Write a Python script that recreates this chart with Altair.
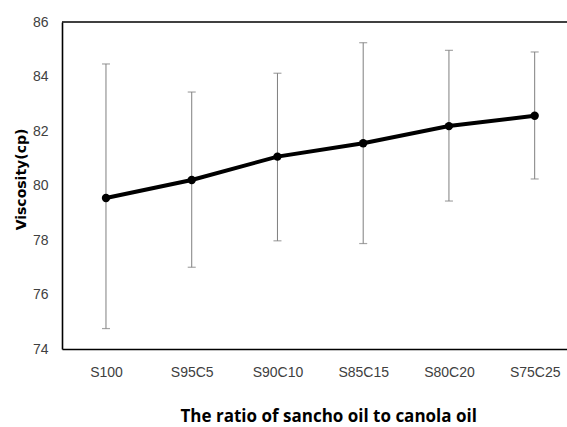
import altair as alt
import pandas as pd

cats = ["S100", "S95C5", "S90C10", "S85C15", "S80C20", "S75C25"]
visc = [79.54, 80.20, 81.06, 81.55, 82.18, 82.56]
upper = [84.46, 83.43, 84.12, 85.24, 84.96, 84.90]
lower = [74.75, 77.00, 77.97, 77.87, 79.43, 80.24]

df = pd.DataFrame({
    "idx": list(range(len(cats))),
    "cat": cats,
    "visc": visc,
    "upper": upper,
    "lower": lower,
})

label_arr = "[" + ",".join("'" + c + "'" for c in cats) + "]"
lab_font = "Liberation Sans, sans-serif"

xscale = alt.Scale(domain=[-0.513, 5.377], nice=False, zero=False)
yscale = alt.Scale(domain=[74, 86], nice=False, zero=False)

xaxis = alt.Axis(
    values=list(range(len(cats))),
    labelExpr=label_arr + "[datum.value]",
    grid=False, ticks=False, tickSize=0,
    labelPadding=16, labelFont=lab_font, labelFontSize=14, labelColor="#404040",
    domainColor="black", domainWidth=1.6,
    title="The ratio of sancho oil to canola oil",
    titleFont="Open Sans", titleFontSize=17, titleFontWeight="bold", titleColor="black",
    titleAnchor="start", titleAlign="left", titleX=118, titleY=72, titleBaseline="alphabetic",
)
yaxis = alt.Axis(
    values=[74, 76, 78, 80, 82, 84, 86],
    grid=False, ticks=False, tickSize=0,
    labelPadding=14, labelFont=lab_font, labelFontSize=14, labelColor="#404040",
    domainColor="black", domainWidth=1.6,
    title="Viscosity(cp)",
    titleFont="DejaVu Sans", titleFontSize=14, titleFontWeight="bold", titleColor="black",
    titleAngle=270, titleX=-41, titleY=157, titleAlign="center", titleBaseline="middle",
)

base = alt.Chart(df)

rules = base.mark_rule(color="#7f7f7f", strokeWidth=1).encode(
    x=alt.X("idx:Q", scale=xscale, axis=xaxis),
    y=alt.Y("lower:Q", scale=yscale, axis=yaxis),
    y2="upper:Q",
)
cap_hi = base.mark_tick(color="#7f7f7f", orient="horizontal", size=8, thickness=1.2).encode(
    x=alt.X("idx:Q", scale=xscale),
    y=alt.Y("upper:Q", scale=yscale),
)
cap_lo = base.mark_tick(color="#7f7f7f", orient="horizontal", size=8, thickness=1.2).encode(
    x=alt.X("idx:Q", scale=xscale),
    y=alt.Y("lower:Q", scale=yscale),
)
line = base.mark_line(color="black", strokeWidth=4).encode(
    x=alt.X("idx:Q", scale=xscale),
    y=alt.Y("visc:Q", scale=yscale),
)
pts = base.mark_circle(color="black", opacity=1, size=70).encode(
    x=alt.X("idx:Q", scale=xscale),
    y=alt.Y("visc:Q", scale=yscale),
)
top = alt.Chart(pd.DataFrame({"a": [0]})).mark_rule(color="black", strokeWidth=1.6).encode(
    x=alt.value(0), x2=alt.value(505), y=alt.value(0)
)

chart = alt.layer(rules, cap_hi, cap_lo, line, pts, top).properties(
    width=505, height=327,
    autosize=alt.AutoSizeParams(type="none"),
    padding={"left": 62, "top": 22, "right": 0, "bottom": 78},
    background="white",
).configure_view(stroke=None)

chart.save("out.html", embed_options={"renderer": "svg", "actions": False})
